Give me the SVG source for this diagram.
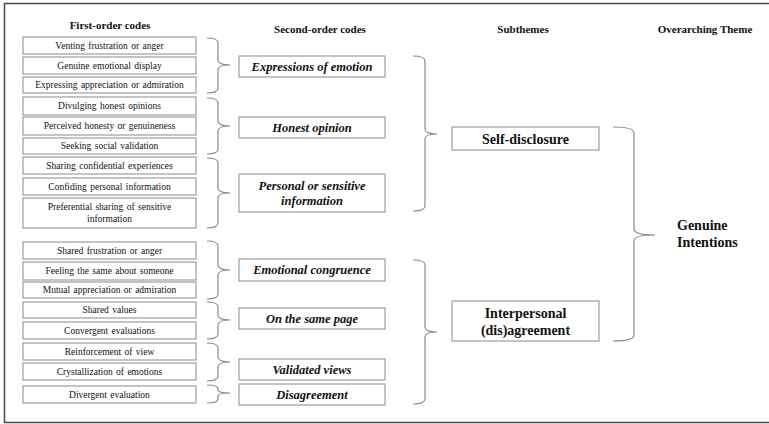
<svg xmlns="http://www.w3.org/2000/svg" width="769" height="424" viewBox="0 0 769 424">
<style>
text{font-family:"Liberation Serif","Times New Roman",serif;fill:#111;text-anchor:middle}
.hd{font-size:11px;font-weight:bold}
.c1{font-size:9.5px;word-spacing:1px}
.c2{font-size:12.5px;font-weight:bold;font-style:italic}
.st{font-size:14px;font-weight:bold}
.box{fill:#fff;stroke:#8a8a8a;stroke-width:1}
.br{fill:none;stroke:#8a8a8a;stroke-width:1.2}
.frame{fill:none;stroke:#4a4a4a;stroke-width:1.5}
</style>
<rect width="769" height="424" fill="#fff"/>
<path class="frame" d="M770,3.5 H4.5 V422.5 H770"/>
<g id="headers">
<text class="hd" x="110" y="29">First-order codes</text>
<text class="hd" x="320" y="33">Second-order codes</text>
<text class="hd" x="523" y="33">Subthemes</text>
<text class="hd" x="705" y="33">Overarching Theme</text>
</g>
<g id="first-order">
<g id="f1"><rect class="box" x="23" y="37" width="173" height="17"/><text class="c1" x="109.5" y="48.8">Venting frustration or anger</text></g>
<g id="f2"><rect class="box" x="23" y="57" width="173" height="17"/><text class="c1" x="109.5" y="68.8">Genuine emotional display</text></g>
<g id="f3"><rect class="box" x="23" y="77" width="173" height="16"/><text class="c1" x="109.5" y="88.3">Expressing appreciation or admiration</text></g>
<g id="f4"><rect class="box" x="23" y="97" width="173" height="18"/><text class="c1" x="109.5" y="109.3">Divulging honest opinions</text></g>
<g id="f5"><rect class="box" x="23" y="117" width="173" height="18"/><text class="c1" x="109.5" y="129.3">Perceived honesty or genuineness</text></g>
<g id="f6"><rect class="box" x="23" y="138" width="173" height="16"/><text class="c1" x="109.5" y="149.3">Seeking social validation</text></g>
<g id="f7"><rect class="box" x="23" y="157" width="173" height="17"/><text class="c1" x="109.5" y="168.8">Sharing confidential experiences</text></g>
<g id="f8"><rect class="box" x="23" y="178" width="173" height="17"/><text class="c1" x="109.5" y="189.8">Confiding personal information</text></g>
<g id="f9"><rect class="box" x="23" y="198" width="173" height="30"/><text class="c1" x="109.5" y="210">Preferential sharing of sensitive</text><text class="c1" x="109.5" y="222">information</text></g>
<g id="f10"><rect class="box" x="23" y="242" width="173" height="17"/><text class="c1" x="109.5" y="253.8">Shared frustration or anger</text></g>
<g id="f11"><rect class="box" x="23" y="262" width="173" height="18"/><text class="c1" x="109.5" y="274.3">Feeling the same about someone</text></g>
<g id="f12"><rect class="box" x="23" y="282" width="173" height="16"/><text class="c1" x="109.5" y="293.3">Mutual appreciation or admiration</text></g>
<g id="f13"><rect class="box" x="23" y="302" width="173" height="16"/><text class="c1" x="109.5" y="313.3">Shared values</text></g>
<g id="f14"><rect class="box" x="23" y="322" width="173" height="17"/><text class="c1" x="109.5" y="333.8">Convergent evaluations</text></g>
<g id="f15"><rect class="box" x="23" y="343" width="173" height="17"/><text class="c1" x="109.5" y="354.8">Reinforcement of view</text></g>
<g id="f16"><rect class="box" x="23" y="363" width="173" height="17"/><text class="c1" x="109.5" y="374.8">Crystallization of emotions</text></g>
<g id="f17"><rect class="box" x="23" y="386" width="173" height="17"/><text class="c1" x="109.5" y="397.8">Divergent evaluation</text></g>
</g>
<g id="second-order">
<g id="s1"><rect class="box" x="239" y="56" width="146" height="21"/><text class="c2" x="312" y="70.8">Expressions of emotion</text></g>
<g id="s2"><rect class="box" x="239" y="117" width="146" height="21"/><text class="c2" x="312" y="131.8">Honest opinion</text></g>
<g id="s3"><rect class="box" x="239" y="174" width="146" height="38"/><text class="c2" x="312" y="189.5">Personal or sensitive</text><text class="c2" x="312" y="204.5">information</text></g>
<g id="s4"><rect class="box" x="239" y="259" width="146" height="22"/><text class="c2" x="312" y="274.3">Emotional congruence</text></g>
<g id="s5"><rect class="box" x="239" y="308" width="146" height="21"/><text class="c2" x="312" y="322.8">On the same page</text></g>
<g id="s6"><rect class="box" x="239" y="359" width="146" height="21"/><text class="c2" x="312" y="373.8">Validated views</text></g>
<g id="s7"><rect class="box" x="239" y="384" width="146" height="21"/><text class="c2" x="312" y="398.8">Disagreement</text></g>
</g>
<g id="subthemes">
<g id="t1"><rect class="box" x="452" y="127" width="147" height="23"/><text class="st" x="525.5" y="143.5">Self-disclosure</text></g>
<g id="t2"><rect class="box" x="452" y="301" width="147" height="40"/><text class="st" x="525.5" y="317.5">Interpersonal</text><text class="st" x="525.5" y="334.5">(dis)agreement</text></g>
</g>
<g id="theme">
<text class="st" x="677" y="230" style="text-anchor:start">Genuine</text>
<text class="st" x="677" y="247" style="text-anchor:start">Intentions</text>
</g>
<g id="connectors">
<path class="br" d="M207,38 Q218,38 218,43 V60 Q218,65 230,65 Q218,65 218,70 V88 Q218,93 207,93"/>
<path class="br" d="M207,98 Q218,98 218,103 V121 Q218,126 230,126 Q218,126 218,131 V149 Q218,154 207,154"/>
<path class="br" d="M207,158 Q218,158 218,163 V188 Q218,193 230,193 Q218,193 218,198 V223 Q218,228 207,228"/>
<path class="br" d="M207,241 Q218,241 218,246 V265 Q218,270 230,270 Q218,270 218,275 V294 Q218,299 207,299"/>
<path class="br" d="M207,302 Q218,302 218,307 V315 Q218,320 230,320 Q218,320 218,325 V334 Q218,339 207,339"/>
<path class="br" d="M207,343 Q218,343 218,348 V357 Q218,362 230,362 Q218,362 218,367 V376 Q218,381 207,381"/>
<path class="br" d="M207,385 Q218,385 218,389 V390 Q218,393 230,393 Q218,393 218,396 V399 Q218,403 207,403"/>
<path class="br" d="M413,56 Q425,56 425,61 V129 Q425,134 437,134 Q425,134 425,139 V206 Q425,211 413,211"/>
<path class="br" d="M413,260 Q425,260 425,265 V327 Q425,332 437,332 Q425,332 425,337 V399 Q425,404 413,404"/>
<path class="br" d="M613,127 Q634,127 634,133 V229 Q634,235 655,235 Q634,235 634,241 V335 Q634,341 613,341"/>
</g>
</svg>
